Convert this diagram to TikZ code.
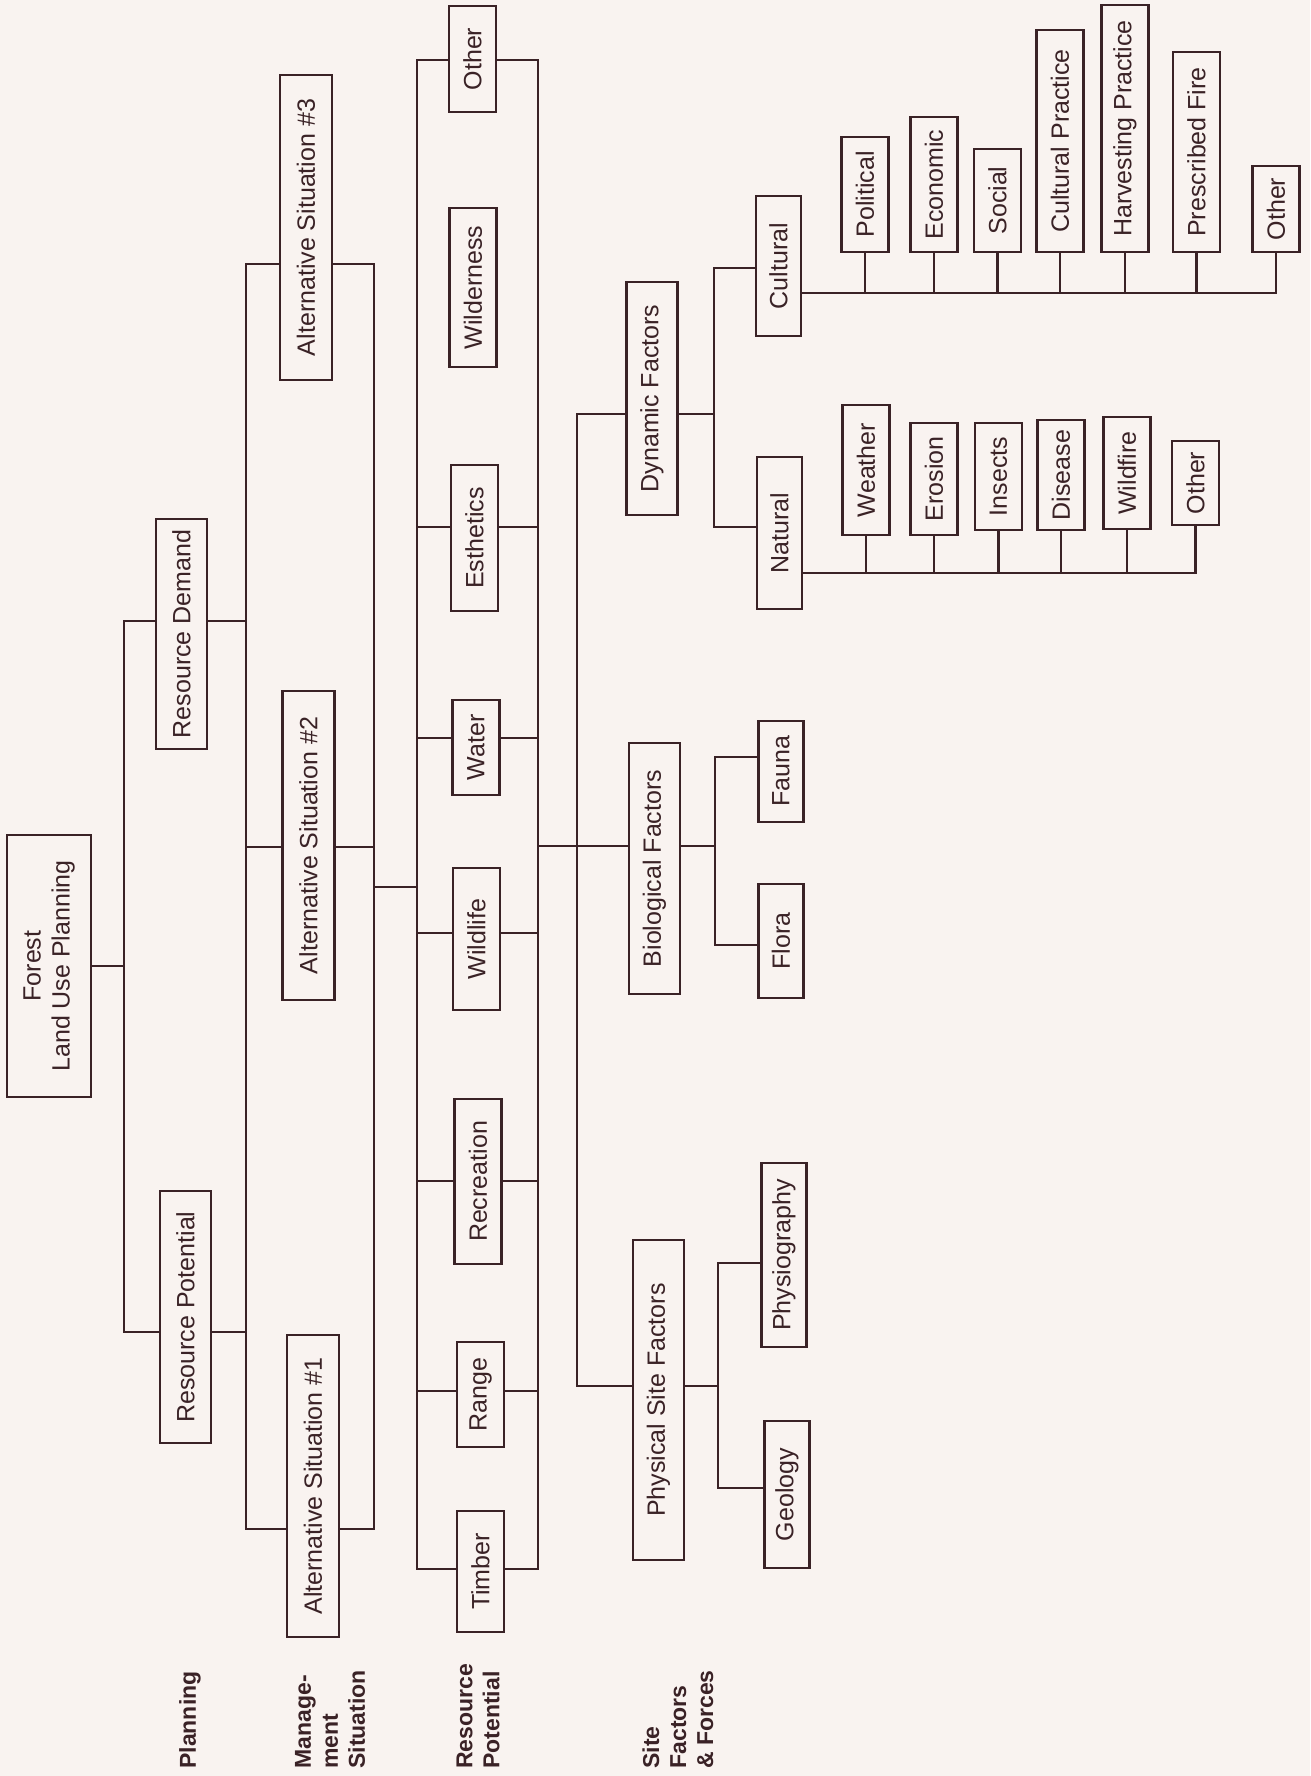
\documentclass[tikz,border=0pt]{standalone}
\usepackage{fontspec}
\setmainfont{Liberation Sans}
\usepackage{tikz}
\usetikzlibrary{positioning}
\definecolor{ink}{RGB}{58,34,38}
\definecolor{paper}{RGB}{249,243,240}

\begin{document}
\begin{tikzpicture}[
x=1pt, y=-1pt, color=ink,
block/.style={draw=ink, fill=paper, rotate=90, inner sep=0, minimum height=47pt, font=\fontsize{25}{29}\selectfont},
rowlabel/.style={rotate=90, anchor=west, align=left, inner sep=0, font=\bfseries\fontsize{23}{27}\selectfont},
every path/.style={line width=2.8pt, line cap=rect}
]
\fill[paper, use as bounding box] (0,0) rectangle (1310,1776);

% Row labels
\node[rowlabel] (lplan) at (190,1770) {Planning};
\node[rowlabel] (lman) at (330,1770) {Manage-\\ment\\Situation};
\node[rowlabel] (lres) at (478,1770) {Resource\\Potential};
\node[rowlabel] (lsite) at (678,1770) {Site\\Factors\\\& Forces};

% Planning
\node[block, minimum width=262pt, minimum height=84pt, align=center] (forest) at (49,966) {Forest\\Land Use Planning};
\node[block, minimum width=230pt, minimum height=51pt] (rdem) at (181.5,634) {Resource Demand};
\node[block, minimum width=252pt, minimum height=51pt] (rpot) at (185.5,1317) {Resource Potential};
\coordinate (p1) at (124,621);
\coordinate (p2) at (124,1332);
\draw (forest.south) -- (forest.south -| p1);
\draw (p1) -- (p2);
\draw (p1) -- (rdem.north |- p1);
\draw (p2) -- (rpot.north |- p2);

% Management situation
\coordinate (mL) at (246,264);
\coordinate (mR) at (374,264);
\draw (mL) -- (246,1529);
\draw (mR) -- (374,1529);
\draw (rdem.south |- p1) -- (p1 -| mL);
\draw (rpot.south |- p2) -- (p2 -| mL);
\foreach \n/\t/\cx/\cy/\h/\c in {alt3/3/306/227.5/305/264, alt2/2/308.5/845.5/309/847, alt1/1/313/1486/302/1529}{
    \node[block, minimum width=\h pt, minimum height=52pt] (\n) at (\cx,\cy) {Alternative Situation \#\t};
    \draw (\n.north |- 0,\c) -- (mL |- 0,\c);
    \draw (\n.south |- 0,\c) -- (mR |- 0,\c);
}

% Resource potential
\coordinate (rL) at (417,60);
\coordinate (rR) at (538,60);
\draw (mR |- 0,887) -- (rL |- 0,887);
\draw (rL) -- (417,1569);
\draw (rR) -- (538,1569);
\node[block, minimum width=159pt] (wild) at (473,287.5) {Wilderness};
\foreach \n/\t/\cx/\cy/\h/\c in {rother/Other/472.5/59/106/60, esth/Esthetics/474.5/538/146/527,
    water/Water/476/747.5/95/738, wlife/Wildlife/476.5/939/142/933, recr/Recreation/478/1181.5/165/1181,
    range/Range/480.5/1394.5/105/1391, timber/Timber/480.5/1571.5/121/1569}{
    \node[block, minimum width=\h pt] (\n) at (\cx,\cy) {\t};
    \draw (\n.north |- 0,\c) -- (rL |- 0,\c);
    \draw (\n.south |- 0,\c) -- (rR |- 0,\c);
}

% Site factors and forces
\coordinate (s1) at (577,414);
\coordinate (s2) at (577,1386);
\draw (s1) -- (s2);
\foreach \n/\t/\cx/\cy/\h/\c/\k in {dyn/Dynamic Factors/652/398.5/233/414/714, bio/Biological Factors/654.5/868.5/251/846/715,
    phys/Physical Site Factors/658.5/1400/320/1386/718}{
    \node[block, minimum width=\h pt, minimum height=51pt] (\n) at (\cx,\cy) {\t};
    \draw (s1 |- 0,\c) -- (\n.north |- 0,\c);
    \draw (\n.south |- 0,\c) -- (\k,\c);
}
\draw (rR |- 0,846) -- (s1 |- 0,846);
\draw (714,268) -- (714,527);
\draw (715,757) -- (715,945);
\draw (718,1263) -- (718,1488);
\foreach \n/\t/\cx/\cy/\h/\c/\k in {cult/Cultural/778.5/266/140/268/714, nat/Natural/779.5/533/152/527/714,
    fauna/Fauna/781/771.5/101/757/715, flora/Flora/781/941/114/945/715,
    physio/Physiography/784/1255/184/1263/718, geo/Geology/787/1494.5/147/1488/718}{
    \node[block, minimum width=\h pt, minimum height=45pt] (\n) at (\cx,\cy) {\t};
    \draw (\k,\c) -- (\n.north |- 0,\c);
}

% Cultural forces
\coordinate (cz) at (1276,293);
\draw (cult.south |- cz) -- (cz);
\foreach \n/\t/\cx/\cy/\h in {pol/Political/865/194.5/115, econ/Economic/934/184.5/135, soc/Social/997.5/200.5/103,
    cprac/Cultural Practice/1060/141/222, hprac/Harvesting Practice/1125/128.5/247,
    pfire/Prescribed Fire/1196.5/152/200, cother/Other/1276/209/86}{
    \node[block, minimum width=\h pt] (\n) at (\cx,\cy) {\t};
    \draw (\n.west) -- (\n.west |- cz);
}

% Natural forces
\coordinate (nz) at (1195.5,573);
\draw (nat.south |- nz) -- (nz);
\foreach \n/\t/\cx/\cy/\h in {weath/Weather/866/470/130, eros/Erosion/934/479/112, insec/Insects/998.5/476.5/107,
    dise/Disease/1061/475/110, wfire/Wildfire/1127/473/112, nother/Other/1195.5/483/84}{
    \node[block, minimum width=\h pt] (\n) at (\cx,\cy) {\t};
    \draw (\n.west) -- (\n.west |- nz);
}
\end{tikzpicture}
\end{document}
